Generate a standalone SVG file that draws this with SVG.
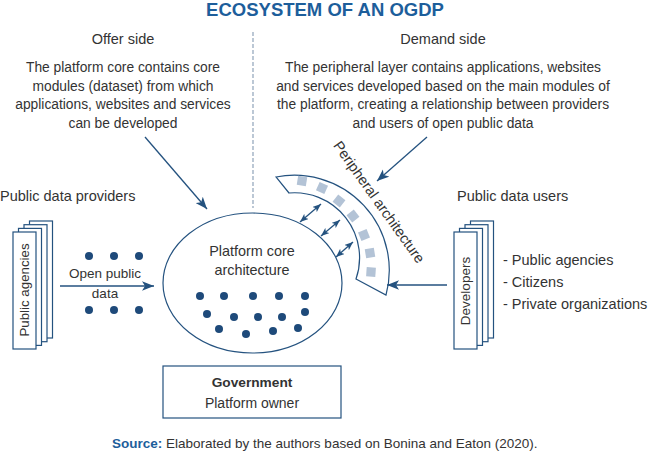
<svg xmlns="http://www.w3.org/2000/svg" width="650" height="455" viewBox="0 0 650 455">
  <defs>
    <style>
      text { font-family: "Liberation Sans", Arial, sans-serif; fill: #333333; }
      .title { font-size: 18.5px; font-weight: bold; fill: #1d5e9b; text-anchor: middle; }
      .head { font-size: 14.5px; text-anchor: middle; }
      .para { font-size: 13.8px; text-anchor: middle; }
      .lbl { font-size: 14.5px; }
      .mid { text-anchor: middle; }
      .ln { fill: none; stroke: #24527f; stroke-width: 1.3; }
      .box { fill: #ffffff; stroke: #24527f; stroke-width: 1.2; }
      .dot { fill: #1e4a7a; }
      .sq { fill: #b3c3d6; }
    </style>
    <marker id="ah" viewBox="0 0 10 8" refX="10" refY="4" markerWidth="12" markerHeight="10" markerUnits="userSpaceOnUse" orient="auto">
      <path d="M0,0 L10,4 L0,8 L2.5,4 z" fill="#24527f"/>
    </marker>
    <marker id="ahs" viewBox="0 0 10 8" refX="10" refY="4" markerWidth="8.5" markerHeight="7" markerUnits="userSpaceOnUse" orient="auto-start-reverse">
      <path d="M0,0 L10,4 L0,8 L2.5,4 z" fill="#24527f"/>
    </marker>
  </defs>

  <rect x="0" y="0" width="650" height="455" fill="#ffffff"/>

  <text class="title" x="325" y="16">ECOSYSTEM OF AN OGDP</text>

  <line x1="253" y1="32" x2="253" y2="208" stroke="#8fa3ba" stroke-width="1.2" stroke-dasharray="4,2"/>

  <g id="offer-side">
    <text class="head" x="123" y="43.5">Offer side</text>
    <text class="para" x="123" y="72">The platform core contains core</text>
    <text class="para" x="123" y="90.5">modules (dataset) from which</text>
    <text class="para" x="123" y="109">applications, websites and services</text>
    <text class="para" x="123" y="127.5">can be developed</text>
  </g>

  <g id="demand-side">
    <text class="head" x="443" y="43.5">Demand side</text>
    <text class="para" x="443" y="72">The peripheral layer contains applications, websites</text>
    <text class="para" x="443" y="90.5">and services developed based on the main modules of</text>
    <text class="para" x="443" y="109">the platform, creating a relationship between providers</text>
    <text class="para" x="443" y="127.5">and users of open public data</text>
  </g>

  <g id="providers">
    <text class="lbl" x="0" y="200.5">Public data providers</text>
    <rect class="box" x="29.5" y="221" width="23" height="117"/>
    <rect class="box" x="24" y="224.7" width="23" height="117"/>
    <rect class="box" x="18.5" y="228.4" width="23" height="117"/>
    <rect class="box" x="13" y="232" width="23" height="117"/>
    <text class="mid" font-size="13.3" transform="translate(29,290) rotate(-90)">Public agencies</text>
  </g>

  <g id="open-data">
    <circle class="dot" cx="89" cy="256" r="4"/>
    <circle class="dot" cx="114" cy="256" r="4"/>
    <circle class="dot" cx="139" cy="256" r="4"/>
    <text class="mid" font-size="13.5" x="105" y="278">Open public</text>
    <text class="mid" font-size="13.5" x="105" y="297.5">data</text>
    <circle class="dot" cx="89" cy="310" r="4"/>
    <circle class="dot" cx="114" cy="310" r="4"/>
    <circle class="dot" cx="139" cy="310" r="4"/>
  </g>

  <g id="platform-core">
    <ellipse class="box" cx="252.5" cy="283" rx="89.5" ry="70"/>
    <text class="mid" font-size="14.4" x="252" y="256">Platform core</text>
    <text class="mid" font-size="14.4" x="252" y="275">architecture</text>
    <circle class="dot" cx="200" cy="296" r="4"/>
    <circle class="dot" cx="224" cy="296" r="4"/>
    <circle class="dot" cx="253" cy="296" r="4"/>
    <circle class="dot" cx="279" cy="296" r="4"/>
    <circle class="dot" cx="305" cy="296" r="4"/>
    <circle class="dot" cx="207" cy="314" r="4"/>
    <circle class="dot" cx="234" cy="317" r="4"/>
    <circle class="dot" cx="258" cy="317" r="4"/>
    <circle class="dot" cx="282" cy="317" r="4"/>
    <circle class="dot" cx="305" cy="312" r="4"/>
    <circle class="dot" cx="219" cy="329" r="4"/>
    <circle class="dot" cx="246" cy="334" r="4"/>
    <circle class="dot" cx="273" cy="331" r="4"/>
    <circle class="dot" cx="298" cy="328" r="4"/>
  </g>

  <g id="peripheral">
    <path class="box" d="M276,177 A95,95 0 0 1 386,295 L356,279 A65,65 0 0 0 289,193 Z"/>
    <rect class="sq" x="-4.6" y="-4.6" width="9.2" height="9.2" transform="translate(302,181) rotate(9)"/>
    <rect class="sq" x="-4.6" y="-4.6" width="9.2" height="9.2" transform="translate(322,188) rotate(24)"/>
    <rect class="sq" x="-4.6" y="-4.6" width="9.2" height="9.2" transform="translate(339,201) rotate(38)"/>
    <rect class="sq" x="-4.6" y="-4.6" width="9.2" height="9.2" transform="translate(353,216) rotate(52)"/>
    <rect class="sq" x="-4.6" y="-4.6" width="9.2" height="9.2" transform="translate(364,235) rotate(68)"/>
    <rect class="sq" x="-4.6" y="-4.6" width="9.2" height="9.2" transform="translate(370,253) rotate(81)"/>
    <rect class="sq" x="-4.6" y="-4.6" width="9.2" height="9.2" transform="translate(371,272) rotate(94)"/>
    <text class="mid" font-size="14.5" transform="translate(375,205) rotate(54.5)">Peripheral architecture</text>
  </g>

  <g id="users">
    <text class="lbl" x="457" y="200.5">Public data users</text>
    <rect class="box" x="470.5" y="221" width="23" height="117"/>
    <rect class="box" x="465" y="224.7" width="23" height="117"/>
    <rect class="box" x="459.5" y="228.4" width="23" height="117"/>
    <rect class="box" x="454" y="232" width="23" height="117"/>
    <text class="mid" font-size="13.5" transform="translate(470,291) rotate(-90)">Developers</text>
    <text class="lbl" x="503" y="265">- Public agencies</text>
    <text class="lbl" x="503" y="287">- Citizens</text>
    <text class="lbl" x="503" y="309">- Private organizations</text>
  </g>

  <g id="government">
    <rect class="box" x="163" y="366" width="178" height="52"/>
    <text class="mid" font-size="13.7" font-weight="bold" x="252" y="387">Government</text>
    <text class="mid" font-size="14" x="252" y="408">Platform owner</text>
  </g>

  <g id="connectors">
    <line class="ln" x1="145" y1="137" x2="207" y2="209" marker-end="url(#ah)"/>
    <line class="ln" x1="427" y1="137" x2="377" y2="181" marker-end="url(#ah)"/>
    <line class="ln" x1="60" y1="286" x2="154" y2="286" marker-end="url(#ah)"/>
    <line class="ln" x1="447" y1="285" x2="387" y2="285" marker-end="url(#ah)"/>
    <line class="ln" x1="300" y1="222" x2="321" y2="204" marker-start="url(#ahs)" marker-end="url(#ahs)"/>
    <line class="ln" x1="321" y1="236" x2="340" y2="220" marker-start="url(#ahs)" marker-end="url(#ahs)"/>
    <line class="ln" x1="336" y1="257" x2="353" y2="242" marker-start="url(#ahs)" marker-end="url(#ahs)"/>
  </g>

  <text font-size="13.5" x="112" y="448"><tspan font-weight="bold" fill="#1d5e9b">Source:</tspan> Elaborated by the authors based on Bonina and Eaton (2020).</text>
</svg>
